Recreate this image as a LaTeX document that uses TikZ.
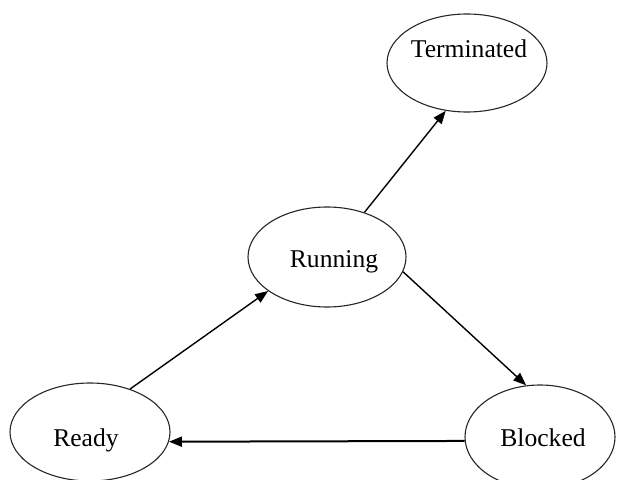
\documentclass[tikz,border=0pt]{standalone}
\usepackage{fontspec}
\setmainfont{Liberation Serif}
\usetikzlibrary{shapes.geometric,arrows.meta}
\begin{document}
\begin{tikzpicture}[x=1pt,y=-1pt,
  state/.style={draw=black!85,line width=1.1pt,ellipse,inner sep=0pt},
  lbl/.style={anchor=base,inner sep=0pt,font=\fontsize{25.6}{30}\selectfont},
  conn/.style={line width=1.4pt,-{Triangle[length=13pt,width=10pt]}}]
\useasboundingbox (0,0) rectangle (618,479);
\clip (0,0) rectangle (618,479);
\node[state,minimum width=160pt,minimum height=98pt] (term) at (467,63) {};
\node[state,minimum width=158pt,minimum height=100pt] (run) at (327,257) {};
\node[state,minimum width=160pt,minimum height=98pt] (ready) at (90,432) {};
\node[state,minimum width=150pt,minimum height=104pt] (blocked) at (540,437) {};
\node[lbl] (termt) at (469,57) {Terminated};
\node[lbl] (runt) at (334,267) {Running};
\node[lbl] (readyt) at (86,446) {Ready};
\node[lbl] (blockedt) at (543,446) {Blocked};
\draw[conn] (ready.47.6) -- (run.210.3);
\draw[conn] (run.50.8) -- (term.246);
\draw[conn] (run.349) -- (blocked.105.5);
\draw[conn,line width=2pt] (blocked.183) -- (ready.353.7);
\end{tikzpicture}
\end{document}
